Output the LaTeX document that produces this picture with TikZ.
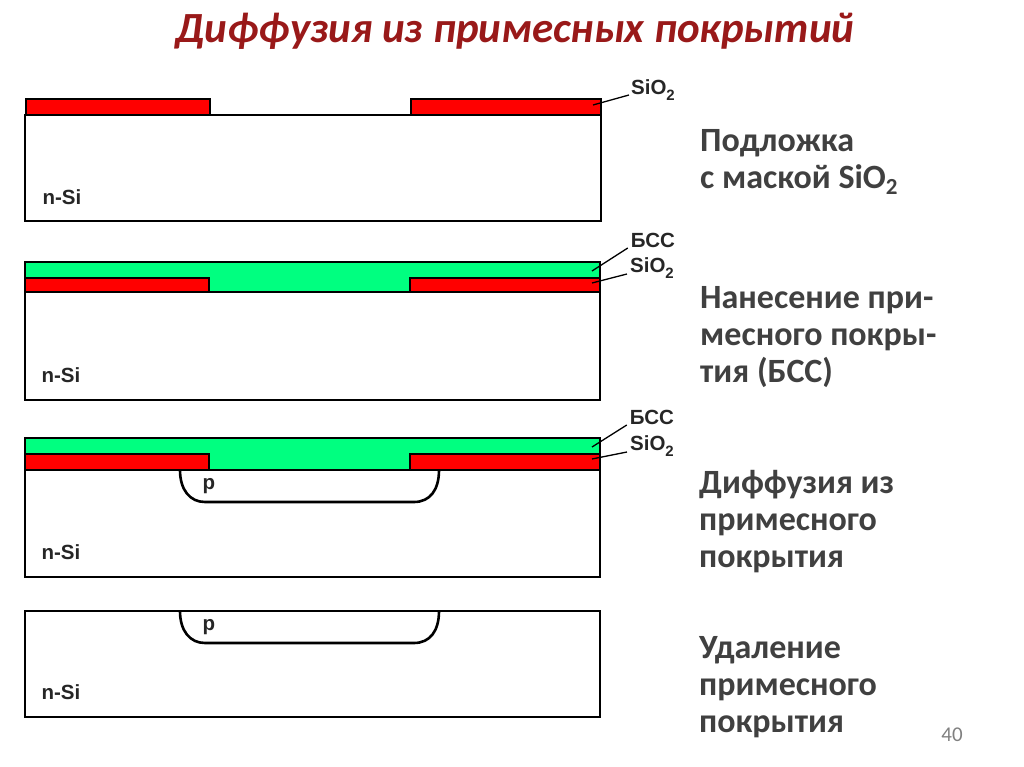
\documentclass[tikz,border=0pt]{standalone}
\usepackage{fontspec}
\setmainfont{Carlito}
\newfontfamily\arialf{Liberation Sans}
\definecolor{redlayer}{RGB}{255,0,0}
\definecolor{greenlayer}{RGB}{0,255,128}
\definecolor{titlered}{RGB}{153,25,25}
\definecolor{darktext}{RGB}{64,64,64}
\newcommand{\labsub}{\raisebox{-0.32em}{\fontsize{15}{16}\selectfont 2}}
\newcommand{\descsub}{\raisebox{-0.2em}{\fontsize{23}{24}\selectfont 2}}
\tikzset{
  outline/.style={draw=black,line width=2.8pt,line join=miter},
  thinout/.style={draw=black,line width=2.6pt},
  leader/.style={draw=black,line width=1.3pt},
  lab/.style={font=\arialf\bfseries\fontsize{20.5}{22}\selectfont,text=black!85,inner sep=0pt},
  desc/.style={font=\bfseries\fontsize{34}{37}\selectfont,text=darktext,inner sep=0pt,align=left,anchor=west},
}
\begin{document}
\begin{tikzpicture}[x=1pt,y=-1pt]
\useasboundingbox (0,0) rectangle (1024,767);
\node[inner sep=0pt,text=titlered,font=\bfseries\itshape\fontsize{43}{50}\selectfont] (title) at (515,31) {Диффузия из примесных покрытий};

% Structure 1
\draw[outline,fill=white] (25,115) rectangle (601,221);
\draw[outline,fill=redlayer] (26,99) rectangle (210,115);
\draw[outline,fill=redlayer] (411,99) rectangle (601,115);
\node[lab] (s1) at (653,90) {SiO\labsub};
\coordinate (s1e) at (593,105);
\draw[leader] (s1.west) ++(-2,5) -- (s1e);
\node[lab] (n1) at (62,197) {n-Si};

% Structure 2
\draw[outline,fill=white] (25,292) rectangle (600,400);
\draw[outline,fill=greenlayer] (25,262) rectangle (600,292);
\draw[outline,fill=redlayer] (25,278) rectangle (209,292);
\draw[outline,fill=redlayer] (410,278) rectangle (600,292);
\node[lab] (b2) at (653,240) {БСС};
\node[lab] (s2) at (652,268) {SiO\labsub};
\coordinate (b2e) at (592,271);
\coordinate (s2e) at (592,283);
\draw[leader] (b2.west) ++(-3,8) -- (b2e);
\draw[leader] (s2.west) ++(-3,6) -- (s2e);
\node[lab] (n2) at (61,375) {n-Si};

% Structure 3
\draw[outline,fill=white] (25,470) rectangle (600,577);
\draw[outline,fill=greenlayer] (25,438) rectangle (600,470);
\draw[outline,fill=redlayer] (25,454) rectangle (209,470);
\draw[outline,fill=redlayer] (410,454) rectangle (600,470);
\draw[thinout] (180,470) .. controls (180,490) and (190,502) .. (205,502) -- (414,502) .. controls (430,502) and (439,490) .. (439,470);
\node[lab] (p3) at (209,486) {p};
\node[lab] (b3) at (652,417) {БСС};
\node[lab] (s3) at (652,446) {SiO\labsub};
\coordinate (b3e) at (592,447);
\coordinate (s3e) at (592,459);
\draw[leader] (b3.west) ++(-3,8) -- (b3e);
\draw[leader] (s3.west) ++(-3,6) -- (s3e);
\node[lab] (n3) at (61,552) {n-Si};

% Structure 4
\draw[outline,fill=white] (25,611) rectangle (600,717);
\draw[thinout] (180,611) .. controls (180,631) and (190,643) .. (205,643) -- (414,643) .. controls (430,643) and (439,631) .. (439,611);
\node[lab] (p4) at (209,627) {p};
\node[lab] (n4) at (61,692) {n-Si};

% Descriptions
\node[desc] (d1) at (700,162) {Подложка\\с маской SiO\descsub};
\node[desc] (d2) at (700,337) {Нанесение при-\\месного покры-\\тия (БСС)};
\node[desc] (d3) at (699,522) {Диффузия из\\примесного\\покрытия};
\node[desc] (d4) at (699,687) {Удаление\\примесного\\покрытия};
\node[inner sep=0pt,text=black!50,font=\fontsize{21}{24}\selectfont] (pg) at (952,735) {40};
\end{tikzpicture}
\end{document}
